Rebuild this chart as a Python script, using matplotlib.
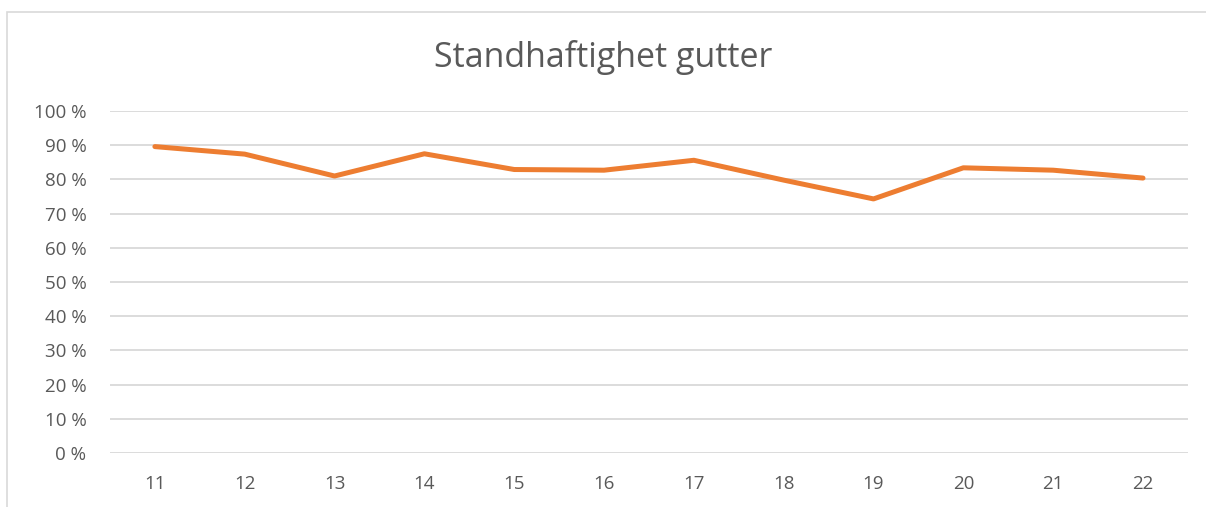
import matplotlib.pyplot as plt
import matplotlib.patches as mpatches
from matplotlib.ticker import FuncFormatter

plt.rcParams['font.family'] = ['Open Sans', 'DejaVu Sans']

# DATA
alder = ['11', '12', '13', '14', '15', '16', '17', '18', '19', '20', '21', '22']
andel = [89.6, 87.4, 81.0, 87.5, 82.9, 82.7, 85.6, 79.8, 74.3, 83.4, 82.7, 80.4]
yticks = list(range(0, 101, 10))

# PLOT
fig = plt.figure(figsize=(12.06, 5.07), dpi=100)
ax = fig.add_axes([0.0912, 0.1065, 0.8938, 0.6745])

x = list(range(len(alder)))
ax.plot(x, andel, color='#ED7D31', linewidth=3.6, solid_capstyle='round', solid_joinstyle='round', zorder=3)

ax.set_xlim(-0.5, len(alder) - 0.5)
ax.set_ylim(0, 100)
ax.set_xticks(x)
ax.set_xticklabels(alder)
ax.set_yticks(yticks)
ax.yaxis.set_major_formatter(FuncFormatter(lambda v, p: '%d\u00a0%%' % v))
ax.tick_params(axis='both', length=0, labelsize=13.5, colors='#595959')
ax.tick_params(axis='x', pad=16)
ax.tick_params(axis='y', pad=17)
ax.grid(axis='y', color='#d9d9d9', linewidth=1.3, zorder=0)
for s in ax.spines.values():
    s.set_visible(False)

fig.text(0.5, 0.887, 'Standhaftighet gutter', ha='center', va='center', fontsize=24.5, color='#595959')

# outer chart border
fig.patches.append(mpatches.Rectangle((0.0058, -0.05), 1.1, 1.026, transform=fig.transFigure,
                                      fill=False, edgecolor='#d9d9d9', linewidth=1.2))

fig.savefig('out.png', dpi=100)
